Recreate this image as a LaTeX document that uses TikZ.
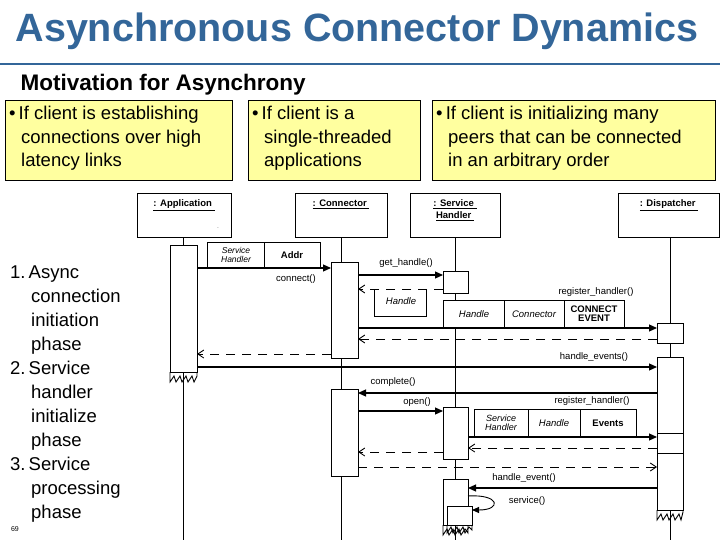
\documentclass[tikz,border=0pt]{standalone}
\usepackage{fontspec}
\setmainfont{Liberation Sans}
\usetikzlibrary{arrows.meta}
\definecolor{ttl}{HTML}{336699}
\definecolor{yel}{HTML}{FFFF9F}
\begin{document}
\begin{tikzpicture}[x=1pt,y=-1pt,
  obj/.style={draw,line width=0.9pt,fill=white},
  act/.style={draw,line width=0.9pt,fill=white},
  call/.style={line width=1.1pt,-{Triangle[length=8pt,width=7pt]}},
  ret/.style={line width=0.9pt,dash pattern=on 9pt off 7pt,-{Straight Barb[length=6pt,width=8pt]}},
  lab/.style={font=\fontsize{9.5}{10}\selectfont,inner sep=1pt},
  ylw/.style={draw,fill=yel,line width=0.6pt},
  btxt/.style={font=\fontsize{18.5}{23.5}\selectfont,align=left,anchor=north west,inner sep=0pt},
  cell/.style={draw,line width=0.9pt,fill=white}]
\useasboundingbox (0,0) rectangle (720,540);
% title
\node[anchor=west,text=ttl,font=\fontsize{39.5}{44}\bfseries\selectfont] (title) at (12,31) {Asynchronous Connector Dynamics};
\draw[ttl,line width=2.5pt] (0,64) -- (720,64);
\node[anchor=west,font=\fontsize{22.5}{26}\bfseries\selectfont] (mot) at (17,85) {Motivation for Asynchrony};
% yellow boxes
\draw[ylw] (5,100) rectangle (232,180);
\draw[ylw] (248,100) rectangle (420,180);
\draw[ylw] (432,100) rectangle (715,180);
\node[btxt] (b1) at (9,106) {\textbullet\,If client is establishing\\\hspace*{12pt}connections over high\\\hspace*{12pt}latency links};
\node[btxt] (b2) at (252,106) {\textbullet\,If client is a\\\hspace*{12pt}single-threaded\\\hspace*{12pt}applications};
\node[btxt] (b3) at (436,106) {\textbullet\,If client is initializing many\\\hspace*{12pt}peers that can be connected\\\hspace*{12pt}in an arbitrary order};
% left list
\node[anchor=north west,inner sep=0pt,align=left,font=\fontsize{18.5}{24}\selectfont] (list) at (10,266)
{1.\,Async\\\hspace*{21pt}connection\\\hspace*{21pt}initiation\\\hspace*{21pt}phase\\2.\,Service\\\hspace*{21pt}handler\\\hspace*{21pt}initialize\\\hspace*{21pt}phase\\3.\,Service\\\hspace*{21pt}processing\\\hspace*{21pt}phase};
\node[font=\fontsize{7}{8}\selectfont] (pg) at (15,529) {69};
% lifelines
\draw[line width=0.9pt] (183,237) -- (183,540);
\draw[line width=0.9pt] (341,237) -- (341,540);
\draw[line width=0.9pt] (455,237) -- (455,540);
\draw[line width=0.9pt] (670,237) -- (670,540);
% object boxes
\node[obj,minimum width=94pt,minimum height=44pt] (app) at (184,215) {};
\node[anchor=north,font=\fontsize{9.5}{10}\bfseries\selectfont] at (app.north) [yshift=-4pt] {\underline{: Application\ }};
\node[font=\tiny] at (218,228) {.};
\node[obj,minimum width=92pt,minimum height=44pt] (con) at (341,215) {};
\node[anchor=north,font=\fontsize{9.5}{10}\bfseries\selectfont] at (con.north) [yshift=-4pt] {\underline{: Connector\ }};
\node[obj,minimum width=90pt,minimum height=44pt] (sh) at (455,215) {};
\node[anchor=north,align=center,font=\fontsize{9.5}{12}\bfseries\selectfont] at (sh.north) [yshift=-4pt] {\underline{: Service\ }\\\underline{Handler\ }};
\node[obj,minimum width=101pt,minimum height=44pt] (dis) at (669,215) {};
\node[anchor=north,font=\fontsize{9.5}{10}\bfseries\selectfont] at (dis.north) [yshift=-4pt] {\underline{: Dispatcher\ }};
% activations
\draw[act] (170,245) rectangle (197,372);
\draw[line width=0.9pt] (170,372) -- (170,382) -- (174,376) -- (176,382) -- (180,376) -- (182,382) -- (186,376) -- (188,382) -- (192,376) -- (194,382) -- (197,376) -- (197,372);
\draw[act] (331,262) rectangle (358,358);
\draw[act] (443,271) rectangle (468,293);
\draw[act] (657,323) rectangle (683,343);
\draw[act] (657,357) rectangle (683,510);
\draw[line width=0.9pt] (657,510) -- (657,520) -- (661,514) -- (663,520) -- (667,514) -- (669,520) -- (673,514) -- (675,520) -- (679,514) -- (681,520) -- (683,512) -- (683,510);
\draw[act] (331,389) rectangle (358,476);
\draw[act] (443,407) rectangle (468,459);
\draw[act] (657,433) rectangle (683,453);
\draw[act] (443,479) rectangle (468,525);
\draw[line width=0.9pt] (443,525) -- (443,535) -- (447,529) -- (449,535) -- (453,529) -- (455,535) -- (459,529) -- (461,535) -- (465,529) -- (468,533) -- (468,525);
\draw[act] (447,506) rectangle (472,525);
\draw[line width=0.9pt] (447,525) -- (447,533) -- (451,527) -- (453,533) -- (457,527) -- (459,533) -- (463,527) -- (465,533) -- (469,527) -- (472,530) -- (472,525);
% phase 1
\draw[cell] (207,242) rectangle (264,268); \draw[cell] (264,242) rectangle (320,268);
\node[lab,align=center,font=\fontsize{8.5}{8.5}\itshape\selectfont] at (236,255) {Service\\Handler};
\node[lab,font=\fontsize{9.5}{10}\bfseries\selectfont] at (292,255) {Addr};
\draw[call] (197,268) -- (331,268);
\node[lab] at (296,279) {connect()};
\draw[call] (358,275) -- (443,275);
\node[lab] at (406,263) {get\_handle()};
\draw[ret] (443,289) -- (358,289);
\draw[line width=0.9pt] (374,289) -- (374,316) -- (426,316) -- (426,289);
\node[lab,font=\fontsize{9.5}{10}\itshape\selectfont] at (401,301) {Handle};
\draw[cell] (443,300) rectangle (504,328); \draw[cell] (504,300) rectangle (564,328); \draw[cell] (564,300) rectangle (624,328);
\node[lab,font=\fontsize{9.5}{10}\itshape\selectfont] at (474,314) {Handle};
\node[lab,font=\fontsize{9.5}{10}\itshape\selectfont] at (534,314) {Connector};
\node[lab,align=center,font=\fontsize{9.5}{9}\bfseries\selectfont] at (594,314) {CONNECT\\EVENT};
\node[lab] at (596,292) {register\_handler()};
\draw[call] (358,328) -- (657,328);
\draw[ret] (657,339) -- (358,339);
\draw[ret] (331,354) -- (197,354);
\node[lab] at (594,357) {handle\_events()};
\draw[call] (197,367) -- (657,367);
% phase 2
\draw[call] (657,393) -- (358,393);
\node[lab] at (393,382) {complete()};
\draw[call] (358,411) -- (443,411);
\node[lab] at (417,402) {open()};
\draw[cell] (474,409) rectangle (528,437); \draw[cell] (528,409) rectangle (580,437); \draw[cell] (580,409) rectangle (636,437);
\node[lab,align=center,font=\fontsize{9}{9}\itshape\selectfont] at (501,423) {Service\\Handler};
\node[lab,font=\fontsize{9.5}{10}\itshape\selectfont] at (554,423) {Handle};
\node[lab,font=\fontsize{9.5}{10}\bfseries\selectfont] at (608,423) {Events};
\node[lab] at (592,401) {register\_handler()};
\draw[call] (468,437) -- (657,437);
\draw[ret] (657,448) -- (468,448);
\draw[ret] (443,452) -- (358,452);
\draw[ret] (358,467) -- (657,467);
% phase 3
\draw[call] (657,488) -- (468,488);
\node[lab] at (524,478) {handle\_event()};
\draw[line width=0.9pt,-{Triangle[length=7pt,width=6pt]}] (468,496) .. controls (500,494) and (502,510) .. (472,510);
\node[lab] at (527,501) {service()};
\end{tikzpicture}
\end{document}
